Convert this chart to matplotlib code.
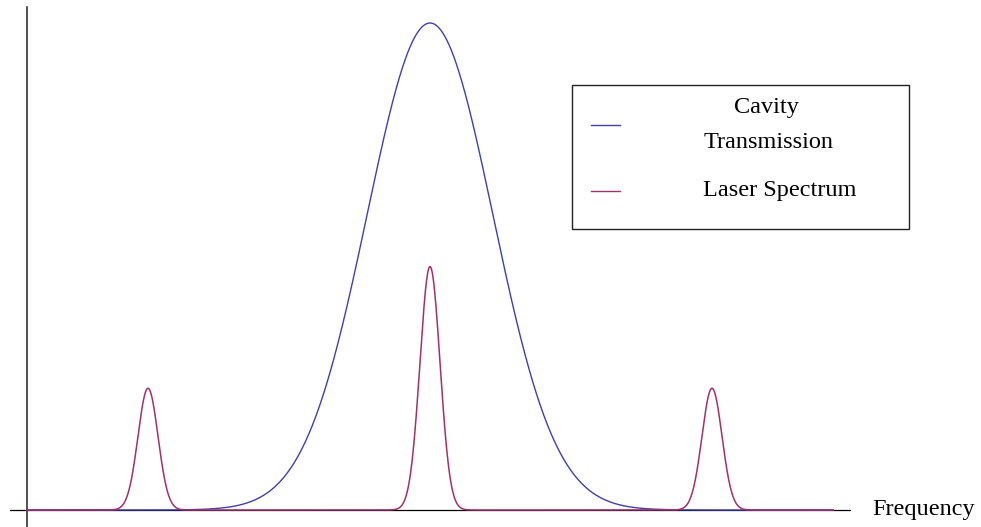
import numpy as np
import matplotlib
matplotlib.use("Agg")
import matplotlib.pyplot as plt
from matplotlib.patches import Rectangle

# Frequency axis in units of the laser mode spacing
freq_min, freq_max = -1.43, 1.43

# Cavity transmission: single Gaussian resonance
cavity_center = 0.0
cavity_height = 1.0
cavity_width = 0.223

# Laser spectrum: comb of three modes
laser_centers = [-1.0, 0.0, 1.0]
laser_heights = [0.25, 0.5, 0.25]
laser_width = 0.0355

legend_labels = ["Cavity", "Transmission", "Laser Spectrum"]
axis_label = "Frequency"

blue = "#3f3fae"
magenta = "#a2306c"

W, H, DPI = 981, 527, 100
fig = plt.figure(figsize=(W / DPI, H / DPI), dpi=DPI)
ax = fig.add_axes([0, 0, 1, 1])
ax.set_axis_off()

# pixel -> data mapping chosen so that one spacing unit = 282 px, peak = 487 px
px_x, x0 = 282.0, 430.0
px_y, y0 = 487.0, 510.0
ax.set_xlim((0 - x0) / px_x, (W - x0) / px_x)
ax.set_ylim(-(H - y0) / px_y, y0 / px_y)

nu = np.linspace(freq_min, freq_max, 4000)
cavity = cavity_height * np.exp(-0.5 * ((nu - cavity_center) / cavity_width) ** 2)
laser = np.zeros_like(nu)
for c, h in zip(laser_centers, laser_heights):
    laser += h * np.exp(-0.5 * ((nu - c) / laser_width) ** 2)

# axes crossing at the left end of the frequency range
ax.plot([-1.49, 1.49], [0, 0], color="black", lw=0.9, zorder=1)
ax.plot([freq_min, freq_min], [-0.05, 1.033], color="#222222", lw=1.1, zorder=1)

ax.plot(nu, cavity, color=blue, lw=1.0, zorder=2)
ax.plot(nu, laser, color=magenta, lw=1.1, zorder=3)

serif = ["Liberation Serif", "DejaVu Serif"]
fs = 17.5
ax.text(872 / W, 1 - 515 / H, axis_label, transform=ax.transAxes,
        family=serif, fontsize=fs, ha="left", va="baseline")

# legend box
ax.add_patch(Rectangle((572 / W, 1 - 229 / H), (909 - 572) / W, (229 - 85) / H,
                       transform=ax.transAxes, fill=False, ec="#222222", lw=1.0, zorder=4))
ax.plot([591 / W, 620 / W], [1 - 124.5 / H] * 2, transform=ax.transAxes, color=blue, lw=1.0)
ax.plot([591 / W, 620 / W], [1 - 191 / H] * 2, transform=ax.transAxes, color=magenta, lw=1.0)
ax.text(766 / W, 1 - 113 / H, legend_labels[0], transform=ax.transAxes,
        family=serif, fontsize=fs, ha="center", va="baseline")
ax.text(769 / W, 1 - 148 / H, legend_labels[1], transform=ax.transAxes,
        family=serif, fontsize=fs, ha="center", va="baseline")
ax.text(703 / W, 1 - 196.5 / H, legend_labels[2], transform=ax.transAxes,
        family=serif, fontsize=fs, ha="left", va="baseline")

fig.savefig("out.png", dpi=DPI)
